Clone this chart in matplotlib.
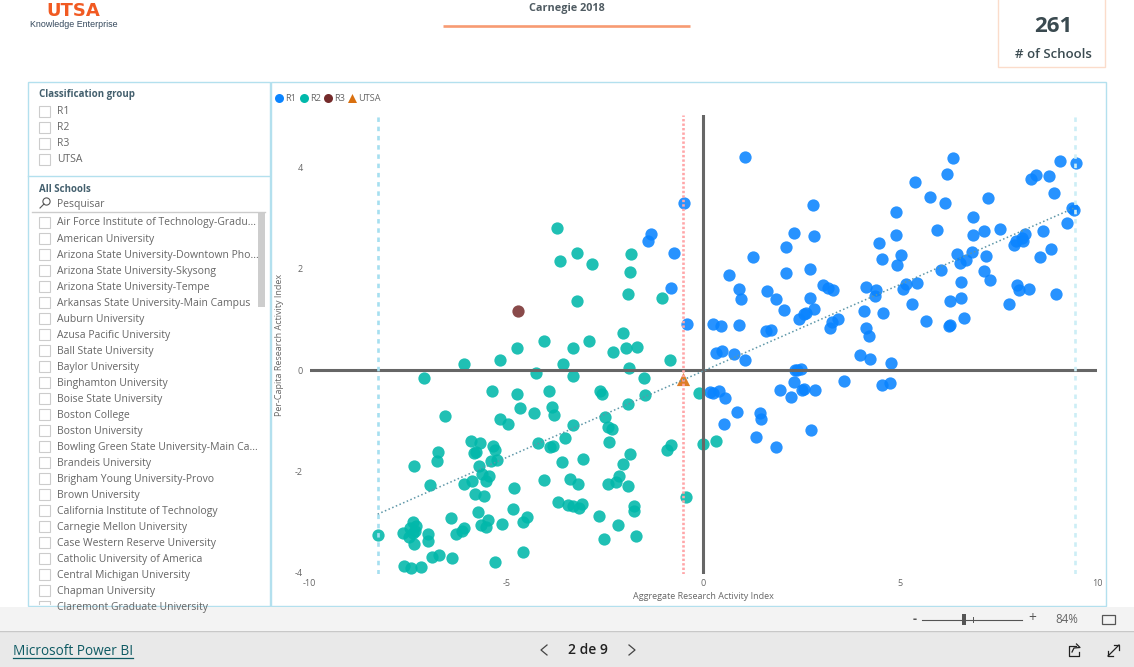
import matplotlib
matplotlib.use('Agg')
import matplotlib.pyplot as plt
from matplotlib.patches import Rectangle, Circle

plt.rcParams['font.family'] = ['Open Sans', 'DejaVu Sans']
plt.rcParams['axes.unicode_minus'] = False

# ================= data =================
r1_x = [1.07, 6.35, 6.19, 5.38, 5.76, 6.13, 7.23, 6.86, 4.89, 2.78, 2.80, 2.30, 2.09, 1.27, 0.65, 0.91,
        0.95, 1.63, 1.85, 2.06, 2.11, 2.71, 3.04, 3.18, 3.30, 2.72, 2.82, 2.57, 2.43, 2.60, 3.42, 3.28,
        3.21, 0.24, 0.45, 0.92, 1.59, 1.73, 4.13, 4.38, 4.37, 4.07, 4.57, 4.13, 4.22, 4.46, 4.90, 4.54,
        5.03, 4.92, 5.15, 5.07, 5.43, 5.30, 5.65, 6.24, 6.26, 6.27, 6.55, 6.61, 6.55, 6.05, 5.94, 6.44,
        6.51, 6.67, 6.82, 6.84, 7.14, 7.54, 7.18, 7.12, 7.28, 7.77, 7.96, 8.03, 8.28, 8.96, 8.55, 8.84,
        8.62, 7.88, 7.94, 8.09, 8.17, 8.13, 8.32, 8.45, 8.78, 9.07, 9.46, 8.90, 9.37, 9.42, 9.25,
        0.32, 0.47, 0.79, 1.07, 3.98, 4.23, 4.78, 2.34, 2.39, 2.49, 2.31, 1.94, 2.23, 2.50, 2.57, 2.83,
        3.58, 4.55, 4.75, 0.18, 0.25, 0.39, 0.54, 0.86, 1.43, 1.46, 0.52, 1.33, 2.73, 1.85,
        -0.49, -1.33, -1.41, -0.75, -0.82, -0.41]
r1_y = [4.21, 4.19, 3.86, 3.71, 3.41, 3.29, 3.39, 3.02, 3.11, 3.25, 2.65, 2.71, 2.43, 2.23, 1.88, 1.60,
        1.40, 1.56, 1.41, 1.18, 1.92, 2.00, 1.68, 1.61, 1.58, 1.43, 1.21, 1.10, 1.01, 1.12, 1.01, 0.94,
        0.84, 0.90, 0.86, 0.88, 0.78, 0.80, 1.64, 1.57, 1.47, 1.16, 1.12, 0.84, 0.68, 2.50, 2.66, 2.20,
        2.26, 2.08, 1.70, 1.60, 1.71, 1.30, 0.97, 0.87, 0.88, 1.36, 1.43, 1.03, 1.73, 1.98, 2.77, 2.28,
        2.11, 2.18, 2.33, 2.67, 2.74, 2.79, 2.25, 1.96, 1.78, 1.31, 1.67, 1.58, 1.60, 1.50, 2.24, 2.38,
        2.74, 2.47, 2.55, 2.60, 2.68, 2.54, 3.76, 3.84, 3.82, 4.13, 4.08, 3.50, 3.19, 3.15, 2.91,
        0.34, 0.37, 0.32, 0.20, 0.29, 0.22, 0.15, 0.01, 0.01, 0.02, -0.24, -0.40, -0.53, -0.39, -0.37, -0.40,
        -0.22, -0.30, -0.26, -0.43, -0.45, -0.41, -0.55, -0.83, -0.85, -0.97, -1.07, -1.31, -1.19, -1.51,
        3.29, 2.68, 2.54, 2.30, 1.61, 0.91]

r2_x = [-0.12, -0.01, 0.32, -3.71, -3.21, -3.65, -2.82, -1.83, -1.86, -1.90, -1.06, -3.20, -2.05, -4.04,
        -4.74, -3.32, -2.91, -2.29, -1.95, -1.68, -6.08, -5.15, -3.57, -0.85, -1.88, -4.25, -3.30, -7.09,
        -1.51, -5.37, -4.72, -3.91, -2.63, -2.58, -1.48, -1.91, -4.65, -3.84, -3.79, -4.29, -6.57, -5.16,
        -4.95, -3.32, -2.50, -2.43, -2.31, -3.51, -2.40, -4.19, -3.90, -3.81, -0.81, -0.91, -5.91, -5.67,
        -5.81, -5.77, -5.33, -5.30, -6.74, -6.75, -5.40, -5.23, -1.85, -3.05, -3.59, -2.05, -7.34, -5.69,
        -5.61, -5.44, -5.52, -5.88, -6.07, -6.95, -4.04, -3.38, -3.17, -2.43, -2.21, -2.13, -1.90, -4.80,
        -5.79, -5.57, -3.68, -3.43, -3.32, -3.16, -3.09, -0.43, -1.77, -1.76, -4.83, -5.72, -2.66, -4.47,
        -4.58, -6.41, -5.46, -5.64, -5.52, -5.12, -2.17, -6.08, -6.12, -6.27, -2.53, -1.71, -7.36, -7.29,
        -7.44, -7.31, -7.37, -7.63, -7.48, -8.27, -6.99, -6.98, -7.34, -4.59, -6.70, -6.90, -6.38, -5.28,
        -7.61, -7.41, -7.17]
r2_y = [-0.45, -1.45, -1.39, 2.80, 2.31, 2.16, 2.10, 2.29, 1.93, 1.50, 1.43, 1.36, 0.74, 0.57,
        0.44, 0.43, 0.58, 0.36, 0.43, 0.46, 0.12, 0.20, 0.12, 0.20, 0.05, -0.05, -0.12, -0.15,
        -0.16, -0.41, -0.48, -0.41, -0.41, -0.47, -0.49, -0.67, -0.75, -0.73, -0.89, -0.85, -0.90, -0.97,
        -1.07, -1.08, -0.93, -1.12, -1.16, -1.33, -1.41, -1.43, -1.52, -1.50, -1.47, -1.58, -1.39, -1.43,
        -1.64, -1.62, -1.50, -1.58, -1.62, -1.79, -1.79, -1.78, -1.66, -1.75, -1.82, -1.85, -1.90, -1.90,
        -2.05, -2.09, -2.18, -2.19, -2.24, -2.26, -2.17, -2.15, -2.25, -2.24, -2.20, -2.08, -2.29, -2.33,
        -2.45, -2.48, -2.61, -2.66, -2.68, -2.71, -2.64, -2.51, -2.67, -2.78, -2.73, -2.80, -2.87, -2.89,
        -3.00, -2.91, -2.96, -3.06, -3.09, -3.04, -3.06, -3.12, -3.18, -3.23, -3.33, -3.27, -3.00, -3.08,
        -3.12, -3.17, -3.22, -3.21, -3.29, -3.26, -3.24, -3.37, -3.43, -3.58, -3.65, -3.69, -3.70, -3.79,
        -3.87, -3.91, -3.89]

r3_x = [-4.70]
r3_y = [1.16]
utsa_x = [-0.52]
utsa_y = [-0.18]

trend_x = [-8.27, 9.40]
trend_y = [-2.84, 3.19]
min_x = -8.27
max_x = 9.45
utsa_line_x = -0.52

x_ticks = [-10, -5, 0, 5, 10]
y_ticks = [-4, -2, 0, 2, 4]

classes = ['R1', 'R2', 'R3', 'UTSA']
schools = ['Air Force Institute of Technology-Gradu...', 'American University',
           'Arizona State University-Downtown Pho...', 'Arizona State University-Skysong',
           'Arizona State University-Tempe', 'Arkansas State University-Main Campus',
           'Auburn University', 'Azusa Pacific University', 'Ball State University',
           'Baylor University', 'Binghamton University', 'Boise State University',
           'Boston College', 'Boston University', 'Bowling Green State University-Main Ca...',
           'Brandeis University', 'Brigham Young University-Provo', 'Brown University',
           'California Institute of Technology', 'Carnegie Mellon University',
           'Case Western Reserve University', 'Catholic University of America',
           'Central Michigan University', 'Chapman University', 'Claremont Graduate University']

C_R1 = '#0A84FF'
C_R2 = '#01B8AA'
C_R3 = '#742A2A'
C_UTSA = '#D9700F'
C_BORDER = '#B3E0EE'
C_TEXT = '#666666'
C_TITLE = '#44606E'

fig = plt.figure(figsize=(11.34, 6.67), dpi=100, facecolor='white')

# page overlay in pixel coordinates
pg = fig.add_axes([0, 0, 1, 1], zorder=0)
pg.set_xlim(0, 1134)
pg.set_ylim(667, 0)
pg.axis('off')

# ================= scatter =================
ax = fig.add_axes([309.5 / 1134, (667 - 574) / 667, 787.5 / 1134, 459 / 667], zorder=2)
ax.patch.set_alpha(0)
ax.set_xlim(-10, 10)
ax.set_ylim(-4.02, 5.03)
for s in ax.spines.values():
    s.set_visible(False)
ax.set_xticks(x_ticks)
ax.set_yticks(y_ticks)
ax.tick_params(length=0, labelsize=6.5, labelcolor=C_TEXT)
ax.tick_params(axis='x', pad=3.6)
ax.tick_params(axis='y', pad=5)

ax.scatter(r1_x, r1_y, s=78, color=C_R1, alpha=0.88, linewidths=0, zorder=2)
ax.scatter(r2_x, r2_y, s=78, color=C_R2, alpha=0.88, linewidths=0, zorder=2)
ax.scatter(r3_x, r3_y, s=78, color=C_R3, alpha=0.85, linewidths=0, zorder=2)
ax.scatter(utsa_x, utsa_y, s=90, color=C_UTSA, marker='^', alpha=0.9, linewidths=0, zorder=2)

ax.axhline(0, color='#666666', lw=2.2, zorder=3)
ax.plot([0, 0], [-4.02, 5.03], color='#666666', lw=2.2, zorder=3)
ax.plot([min_x, min_x], [-4.02, 5.03], color='#A6DFF0', lw=1.9, ls=(0, (1.7, 1.8)), zorder=3)
ax.plot([max_x, max_x], [-4.02, 5.03], color='#CDEEF6', lw=1.9, ls=(0, (1.7, 1.8)), zorder=3)
ax.plot([utsa_line_x, utsa_line_x], [-4.02, 5.03], color='#FFA6A8', lw=1.9, ls=(0, (0.9, 0.8)), zorder=3)
ax.plot(trend_x, trend_y, color='#5E97A8', lw=1.1, ls=(0, (1, 1.6)), zorder=3)

ax.set_xlabel('Aggregate Research Activity Index', fontsize=6.5, color=C_TEXT)
ax.xaxis.set_label_coords(0.5, -0.04)
fig.text(279 / 1134, 1 - 345 / 667, 'Per-Capita Research Activity Index', fontsize=6.5, color=C_TEXT,
         rotation=90, ha='center', va='center')

# ================= header =================
pg.text(73.5, 11, 'UTSA', fontsize=13, fontweight='bold', color='#F15A22', ha='center', va='center',
        family='Liberation Sans Narrow')
pg.text(74, 24.5, 'Knowledge Enterprise', fontsize=6.4, color='#33475B', ha='center', va='center',
        family='Liberation Sans')
pg.text(566.5, 8.5, 'Carnegie 2018', fontsize=7.8, fontweight='bold', color='#4F5B62', ha='center', va='center')
pg.plot([443, 690], [26, 26], color='#F79B72', lw=1.9, solid_capstyle='butt')
pg.add_patch(Rectangle((998, -2), 107, 69, fc='white', ec='#FBDCCB', lw=1))
pg.text(1053, 27, '261', fontsize=16, fontweight='bold', color='#3A4A50', ha='center', va='center')
pg.text(1053, 54, '# of Schools', fontsize=9.5, fontweight='semibold', color='#3A4A50', ha='center', va='center')

# ================= panels =================
pg.add_patch(Rectangle((27.5, 82), 242.5, 524, fc='white', ec=C_BORDER, lw=1))
pg.add_patch(Rectangle((270.5, 82), 835, 524, fc='white', ec=C_BORDER, lw=1))
pg.plot([27.5, 270], [175.5, 175.5], color=C_BORDER, lw=1)

pg.text(39, 95, 'Classification group', fontsize=7, fontweight='bold', color=C_TITLE, va='center')
for i, c in enumerate(classes):
    yy = 111 + i * 16
    pg.add_patch(Rectangle((39, yy - 5.5), 11, 11, fc='white', ec='#CCCCCC', lw=0.8))
    pg.text(57, yy + 1, c, fontsize=7.5, color=C_TEXT, va='center')

pg.text(39, 189, 'All Schools', fontsize=7, fontweight='bold', color=C_TITLE, va='center')
pg.add_patch(Circle((46.5, 201.5), 3.6, fc='none', ec='#555555', lw=0.8))
pg.plot([40, 44], [208, 204], color='#555555', lw=0.8)
pg.text(57, 205, 'Pesquisar', fontsize=7.5, color=C_TEXT, va='center')
pg.plot([32, 265], [212, 212], color='#CCCCCC', lw=1)
pg.add_patch(Rectangle((258, 212), 7, 95, fc='#CDCDCD', ec='none'))

clip = Rectangle((28, 212), 241, 393, transform=pg.transData)
for i, name in enumerate(schools):
    yy = 222 + i * 16.04
    box = Rectangle((39, yy - 5.5), 11, 11, fc='white', ec='#CCCCCC', lw=0.8)
    pg.add_patch(box)
    box.set_clip_path(clip)
    t = pg.text(57, yy + 1, name, fontsize=7.5, color=C_TEXT, va='center')
    t.set_clip_path(clip)

# legend of the scatter
leg_x = [279, 304, 328, 352]
leg_colors = [C_R1, C_R2, C_R3, C_UTSA]
for lx, c, col in zip(leg_x, classes, leg_colors):
    pg.scatter([lx], [98], s=42, color=col, marker='^' if c == 'UTSA' else 'o', linewidths=0, zorder=3)
    pg.text(lx + 6, 98.5, c, fontsize=6.6, color=C_TEXT, va='center')

# ================= footer =================
pg.add_patch(Rectangle((0, 607), 1134, 23, fc='#F3F3F3', ec='none'))
pg.add_patch(Rectangle((0, 631), 1134, 36, fc='#E9E9E9', ec='none'))
pg.plot([0, 1134], [630.5, 630.5], color='#C8C8C8', lw=1)

pg.text(915, 619, '-', fontsize=9, fontweight='bold', color='#555555', ha='center', va='center')
pg.plot([922, 1022], [619.5, 619.5], color='#555555', lw=0.8)
pg.add_patch(Rectangle((962, 614), 4, 11, fc='#555555', ec='none'))
pg.plot([972.5, 972.5], [617, 622], color='#555555', lw=0.7)
pg.text(1032, 618.5, '+', fontsize=10, color='#555555', ha='center', va='center')
pg.text(1067, 619.5, '84%', fontsize=8.3, color=C_TEXT, ha='center', va='center')
pg.add_patch(Rectangle((1102, 614.5), 13, 9, fc='none', ec='#555555', lw=0.9))

pg.text(13, 651.5, 'Microsoft Power BI', fontsize=9.8, color='#0E5A63', va='center')
pg.plot([13, 133], [658, 658], color='#0E5A63', lw=0.9)
pg.text(588, 650.5, '2 de 9', fontsize=10, fontweight='semibold', color='#222222', ha='center', va='center')
pg.plot([547, 541, 547], [645, 650, 655], color='#444444', lw=0.9)
pg.plot([629, 635, 629], [645, 650, 655], color='#444444', lw=0.9)

# share / expand icons
pg.plot([1076, 1069, 1069, 1079, 1079], [645.5, 645.5, 655.5, 655.5, 652], color='#222222', lw=0.9)
pg.plot([1072, 1074, 1080, 1076.5], [652, 648, 647.5, 644], color='#222222', lw=0.9)
pg.plot([1108, 1119], [656, 645], color='#222222', lw=0.9)
pg.plot([1114, 1119, 1119], [645, 645, 650], color='#222222', lw=0.9)
pg.plot([1108, 1108, 1113], [651, 656, 656], color='#222222', lw=0.9)

plt.savefig('out.png', dpi=100, facecolor='white')
